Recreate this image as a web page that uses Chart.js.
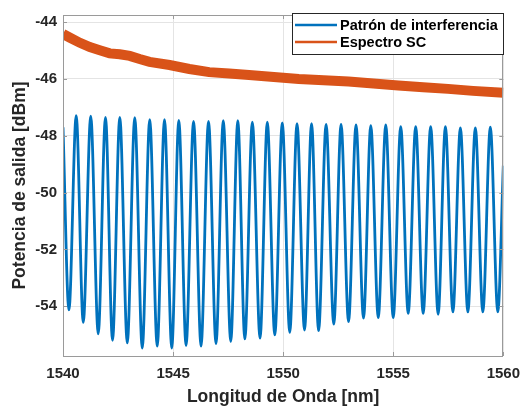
<!DOCTYPE html>
<html lang="es">
<head>
<meta charset="UTF-8">
<title>Patrón de interferencia y espectro SC</title>
<script src="https://cdn.jsdelivr.net/npm/chart.js@4"></script>
<style>
  html, body { margin: 0; padding: 0; background: #fff; }
  canvas { display: block; }
</style>
</head>
<body>
<canvas id="grafico" width="529" height="411"></canvas>
<script>
// Mínimos de las franjas de interferencia [nm] y [dBm]
const minimosNm = [1540.27, 1540.92, 1541.60, 1542.25, 1542.92, 1543.60, 1544.28, 1544.94, 1545.59, 1546.27,
                   1546.95, 1547.62, 1548.26, 1548.95, 1549.62, 1550.30, 1550.97, 1551.61, 1552.30, 1552.97,
                   1553.65, 1554.32, 1555.00, 1555.68, 1556.36, 1557.04, 1557.71, 1558.39, 1559.07, 1559.75];
const minimosDbm = [-54.13, -54.57, -54.97, -55.20, -55.29, -55.47, -55.40, -55.47, -55.38, -55.40,
                    -55.32, -55.24, -55.15, -55.12, -55.01, -54.92, -54.84, -54.86, -54.63, -54.54,
                    -54.42, -54.40, -54.40, -54.25, -54.25, -54.28, -54.20, -54.20, -54.20, -54.20];
// Máximos de las franjas
const maximosNm = [1540.60, 1541.26, 1541.93, 1542.58, 1543.26, 1543.94, 1544.61, 1545.26, 1545.93, 1546.61,
                   1547.28, 1547.94, 1548.60, 1549.28, 1549.96, 1550.63, 1551.29, 1551.95, 1552.63, 1553.31,
                   1553.98, 1554.66, 1555.34, 1556.02, 1556.70, 1557.37, 1558.05, 1558.73, 1559.41];
const maximosDbm = [-47.29, -47.31, -47.35, -47.35, -47.36, -47.43, -47.43, -47.46, -47.49, -47.49,
                    -47.47, -47.47, -47.52, -47.52, -47.55, -47.57, -47.57, -47.60, -47.60, -47.62,
                    -47.64, -47.62, -47.68, -47.68, -47.68, -47.68, -47.72, -47.72, -47.70];
// extremos de la traza medida
const inicioPatron = [1540.0, -47.70];
const finPatron = [1560.0, -49.05];

// Espectro del supercontinuo
const scNm = [1540.00, 1540.32, 1540.77, 1541.22, 1541.67, 1542.12, 1542.58, 1543.03, 1543.48, 1543.93,
              1544.84, 1545.74, 1546.64, 1547.55, 1548.45, 1549.58, 1550.71, 1551.84, 1552.97, 1554.10,
              1555.23, 1556.36, 1557.49, 1558.62, 1560.00];
const scDbm = [-44.42, -44.55, -44.73, -44.88, -44.99, -45.10, -45.13, -45.19, -45.30, -45.40,
               -45.51, -45.65, -45.76, -45.81, -45.86, -45.93, -46.00, -46.05, -46.09, -46.16,
               -46.23, -46.29, -46.35, -46.42, -46.49];

const xTicks = [1540, 1545, 1550, 1555, 1560];
const yTicks = [-54, -52, -50, -48, -46, -44];

const AZUL = '#0072BD';
const NARANJA = '#D95319';
const FUENTE = '"Liberation Sans", Arial, sans-serif';
const TEXTO = '#262626';

// intercalar mínimos y máximos en una sola traza
const patron = [{x: inicioPatron[0], y: inicioPatron[1]}];
minimosNm.forEach((nm, i) => {
  patron.push({x: nm, y: minimosDbm[i]});
  if (i < maximosNm.length) patron.push({x: maximosNm[i], y: maximosDbm[i]});
});
patron.push({x: finPatron[0], y: finPatron[1]});

const espectro = scNm.map((nm, i) => ({x: nm, y: scDbm[i]}));

// caja del eje, marcas hacia dentro y leyenda dentro del área
const cajaYLeyenda = {
  id: 'cajaYLeyenda',
  afterDatasetsDraw(chart) {
    const {ctx, chartArea: a, scales} = chart;
    ctx.save();
    ctx.lineWidth = 1;
    ctx.strokeStyle = '#9a9a9a';
    xTicks.forEach(v => {
      const px = Math.round(scales.x.getPixelForValue(v)) + 0.5;
      ctx.beginPath();
      ctx.moveTo(px, a.bottom); ctx.lineTo(px, a.bottom - 4);
      ctx.moveTo(px, a.top); ctx.lineTo(px, a.top + 4);
      ctx.stroke();
    });
    yTicks.forEach(v => {
      const py = Math.round(scales.y.getPixelForValue(v)) + 0.5;
      ctx.beginPath();
      ctx.moveTo(a.left, py); ctx.lineTo(a.left + 4, py);
      ctx.moveTo(a.right, py); ctx.lineTo(a.right - 4, py);
      ctx.stroke();
    });
    ctx.strokeRect(Math.round(a.left) + 0.5, Math.round(a.top) + 0.5,
                   Math.round(a.right - a.left) - 1, Math.round(a.bottom - a.top));

    // leyenda
    const lx = 292, ly = 13, lw = 211, lh = 41;
    ctx.fillStyle = '#fff';
    ctx.fillRect(lx, ly, lw, lh);
    ctx.strokeStyle = TEXTO;
    ctx.strokeRect(lx + 0.5, ly + 0.5, lw, lh);
    ctx.font = 'bold 14.5px ' + FUENTE;
    ctx.textBaseline = 'middle';
    chart.data.datasets.forEach((ds, i) => {
      const yy = ly + 12 + i * 17;
      ctx.strokeStyle = ds.borderColor;
      ctx.lineWidth = 2.5;
      ctx.beginPath();
      ctx.moveTo(lx + 3, yy); ctx.lineTo(lx + 45, yy);
      ctx.stroke();
      ctx.fillStyle = '#000';
      ctx.fillText(ds.label, lx + 48, yy + 1);
    });
    ctx.restore();
  }
};

new Chart(document.getElementById('grafico'), {
  type: 'line',
  data: {
    datasets: [
      {
        label: 'Patrón de interferencia',
        data: patron,
        borderColor: AZUL,
        borderWidth: 2.8,
        pointRadius: 0,
        cubicInterpolationMode: 'monotone',
        clip: 0
      },
      {
        label: 'Espectro SC',
        data: espectro,
        borderColor: NARANJA,
        borderWidth: 10,
        pointRadius: 0,
        tension: 0,
        clip: 0
      }
    ]
  },
  options: {
    responsive: false,
    animation: false,
    events: [],
    layout: { padding: { top: 9, right: 23, left: 0, bottom: 0 } },
    plugins: { legend: { display: false }, tooltip: { enabled: false } },
    scales: {
      x: {
        type: 'linear',
        min: 1540,
        max: 1560,
        afterBuildTicks: s => { s.ticks = xTicks.map(v => ({value: v})); },
        afterFit: s => { s.height = 55; },
        grid: { color: '#e4e4e4', drawTicks: false },
        border: { display: false },
        ticks: {
          padding: 9,
          color: TEXTO,
          font: { family: FUENTE, size: 15, weight: 'bold' },
          callback: v => String(v)
        },
        title: {
          display: true,
          text: 'Longitud de Onda [nm]',
          color: TEXTO,
          font: { family: FUENTE, size: 17.5, weight: 'bold' },
          padding: { top: 0, bottom: 3 }
        }
      },
      y: {
        type: 'linear',
        min: -55.75,
        max: -43.75,
        afterBuildTicks: s => { s.ticks = yTicks.map(v => ({value: v})); },
        afterFit: s => { s.width = 63; },
        grid: { color: '#e4e4e4', drawTicks: false },
        border: { display: false },
        ticks: {
          padding: 6,
          color: TEXTO,
          font: { family: FUENTE, size: 15, weight: 'bold' },
          callback: v => String(v)
        },
        title: {
          display: true,
          text: 'Potencia de salida [dBm]',
          color: TEXTO,
          font: { family: FUENTE, size: 17.5, weight: 'bold' },
          padding: { top: 10, bottom: 0 }
        }
      }
    }
  },
  plugins: [cajaYLeyenda]
});
</script>
</body>
</html>
